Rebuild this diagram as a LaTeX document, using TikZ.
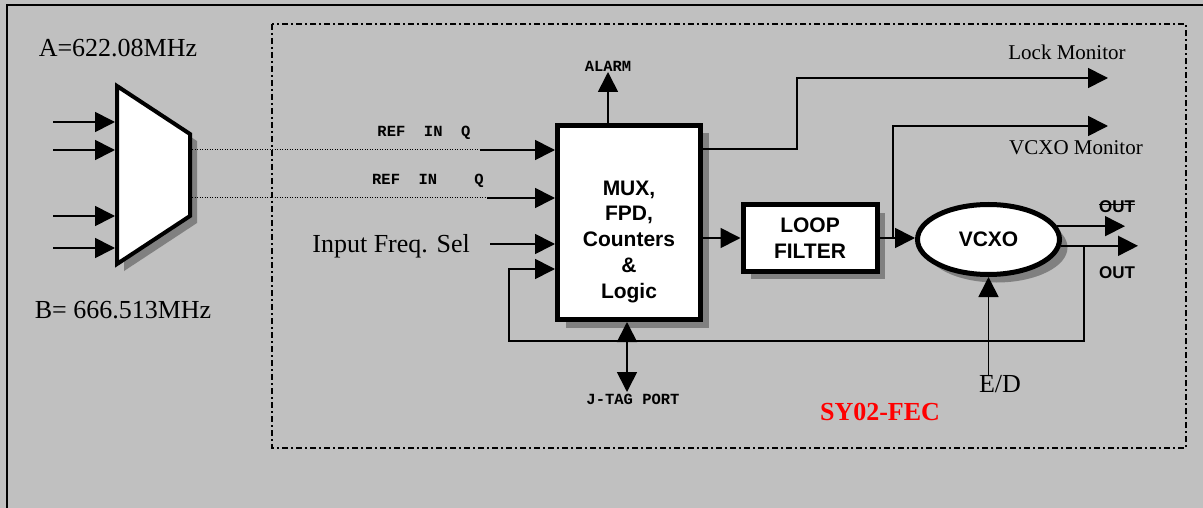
\documentclass[tikz,border=0pt]{standalone}
\usepackage{fontspec}
\setmainfont{Liberation Serif}
\setsansfont{Liberation Sans}
\setmonofont{Liberation Mono}
\usetikzlibrary{arrows.meta,shapes.geometric,shadows}
\definecolor{panel}{RGB}{192,192,192}
\definecolor{shadowgrey}{RGB}{128,128,128}
\tikzset{wire/.style={line width=1.7pt},
	blk/.style={draw,fill=white,line width=5pt,inner sep=0pt,align=center,
		font=\sffamily\bfseries\fontsize{21}{26}\selectfont,
		drop shadow={shadow xshift=8pt,shadow yshift=-8pt,opacity=1,fill=shadowgrey}},
	pin/.style={inner sep=0pt,font=\ttfamily\bfseries\fontsize{15.5}{18}\selectfont},
	lbl/.style={inner sep=0pt,font=\fontsize{26}{30}\selectfont},
	mon/.style={inner sep=0pt,font=\fontsize{21}{25}\selectfont},
	outlbl/.style={inner sep=0pt,font=\sffamily\bfseries\fontsize{17}{20}\selectfont}}

\begin{document}
\begin{tikzpicture}[x=1pt,y=-1pt,>={Triangle[length=20pt,width=20pt]}]
	\useasboundingbox (0,0) rectangle (1203,508);
	\fill[panel] (0,0) rectangle (1203,508);
	\draw[line width=2pt] (7,508) -- (7,5) -- (1203,5);
	\draw[line width=1.6pt,dash pattern=on 6pt off 3pt on 2pt off 3pt] (272,24) rectangle (1186,448);
	% multiplexer
	\fill[shadowgrey,shift={(7,7)}] (117,86) -- (190,134) -- (190,216) -- (117,264) -- cycle;
	\draw[line width=4pt,fill=white] (117,86) -- (190,134) -- (190,216) -- (117,264) -- cycle;
	\coordinate (ml) at (115,0);
	\coordinate (qa) at (192,150);
	\coordinate (qb) at (192,198);
	\foreach \y/\n in {122/ia,150/ib,216/ic,248/id}{
		\coordinate (\n) at (53,\y);
		\draw[wire,->] (\n) -- (\n -| ml);
	}
	\node[lbl] (fa) at (118,48) {A=622.08MHz};
	\node[lbl] (fb) at (123,310) {B= 666.513MHz};
	% blocks
	\node[blk,minimum width=143pt,minimum height=194pt] (mux) at (629,222.5) {};
	\node[inner sep=0pt,align=center,font=\sffamily\bfseries\fontsize{21}{26}\selectfont] (muxtxt) at (629,242) {MUX,\\FPD,\\Counters\\\&\\Logic};
	\node[blk,minimum width=134pt,minimum height=66pt] (lf) at (810,238) {LOOP\\FILTER};
	\node[blk,ellipse,minimum width=142pt,minimum height=70pt] (vcxo) at (988.5,239.5) {VCXO};
	% inputs
	\coordinate (ra) at (480,150);
	\coordinate (rb) at (487,198);
	\draw[line width=1pt,dash pattern=on 1pt off 1.5pt] (qa) -- (ra);
	\draw[line width=1pt,dash pattern=on 1pt off 1.5pt] (qb) -- (rb);
	\draw[wire,->] (ra) -- (ra -| mux.west);
	\draw[wire,->] (rb) -- (rb -| mux.west);
	\node[pin] (refa) at (424,133) {REF\ \ IN\ \ Q};
	\node[pin] (refb) at (428,181) {REF\ \ IN\ \ \ \ Q};
	\node[lbl,anchor=east] (fsel) at (470,246) {Input Freq. Sel};
	\coordinate (fs) at (490,244);
	\draw[wire,->] (fs) -- (fs -| mux.west);
	% alarm / jtag
	\node[pin,anchor=south] (alarm) at (608,72) {ALARM};
	\draw[wire,->] (mux.north -| alarm) -- (alarm.south);
	\node[pin,anchor=north] (jtag) at (633,394) {J-TAG PORT};
	\coordinate (jt) at (627,392);
	\draw[wire,<->] (mux.south -| jt) -- (jt);
	% monitors
	\coordinate (lock) at (1108,78);
	\coordinate (vmon) at (1108,126);
	\draw[wire,->] (mux.east |- 0,149) -- (797,149) -- (797,78) -- (lock);
	\draw[wire,->] (lf.east -| 893,0) -- (893,126) -- (vmon);
	\node[mon] (lockm) at (1067,52) {Lock Monitor};
	\node[mon] (vcxom) at (1076,148) {VCXO Monitor};
	% loop
	\draw[wire,->] (mux.east |- lf) -- (lf.west);
	\draw[wire,->] (lf.east) -- (lf.east -| vcxo.west);
	\coordinate (oa) at (1125,0);
	\coordinate (ob) at (1138,0);
	\draw[wire,->] (vcxo.11) -- (vcxo.11 -| oa);
	\draw[wire,->] (vcxo.-5) -- (vcxo.-5 -| ob);
	\node[outlbl] (outb) at (1117,207) {OUT};
	\draw[line width=1pt] ([yshift=2pt]outb.west) -- ([yshift=2pt]outb.east);
	\node[outlbl] (outt) at (1117,273) {OUT};
	\coordinate (fbtap) at (1084,0);
	\draw[wire,->] (vcxo.-5 -| fbtap) -- (1084,341) -- (509,341) -- (509,269) -- (mux.west |- 0,269);
	\node[lbl] (ed) at (1000,384) {E/D};
	\draw[wire,->] (ed.north -| vcxo.south) -- (vcxo.south);
	\node[lbl,text=red,font=\bfseries\fontsize{26}{30}\selectfont] (fec) at (880,412) {SY02-FEC};
\end{tikzpicture}
\end{document}
